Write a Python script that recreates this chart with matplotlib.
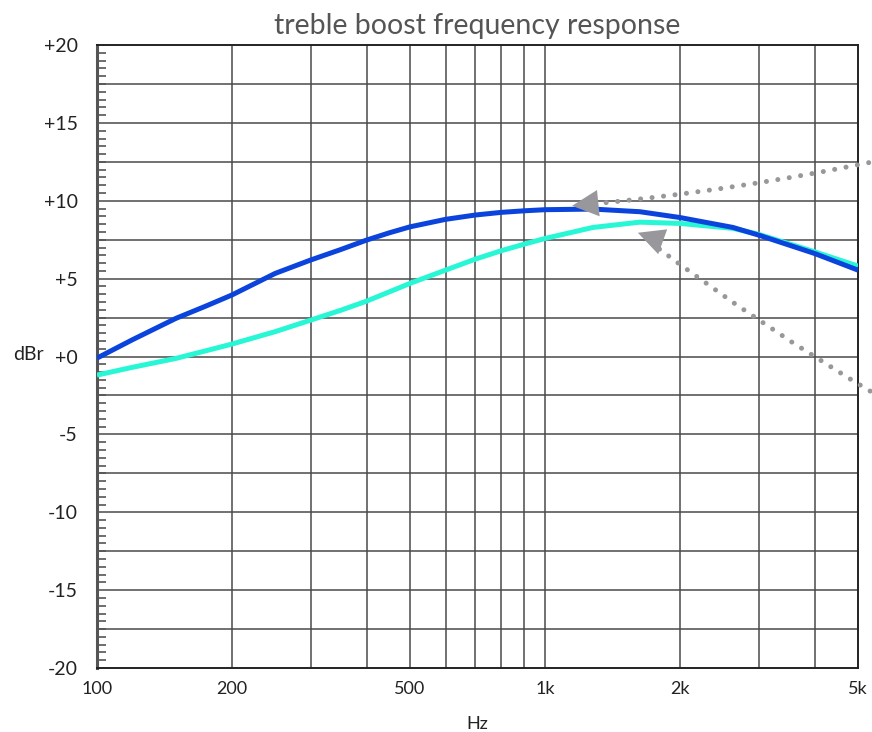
import numpy as np
import matplotlib
matplotlib.use("Agg")
import matplotlib.pyplot as plt
from matplotlib.ticker import FixedLocator, NullFormatter

plt.rcParams['font.family'] = ['Lato', 'DejaVu Sans']

# values (Hz, dBr)
freq = [100, 120, 150, 175, 200, 250, 300, 350, 400, 450, 500, 600, 700, 800, 900, 1000,
        1280, 1630, 2000, 2630, 3000, 4000, 5000]
boost_on = [-0.1, 1.08, 2.45, 3.24, 3.95, 5.34, 6.2, 6.87, 7.48, 7.95, 8.33, 8.81, 9.09,
            9.26, 9.36, 9.43, 9.47, 9.3, 8.93, 8.29, 7.8, 6.62, 5.55]
boost_off = [-1.19, -0.69, -0.12, 0.37, 0.8, 1.6, 2.34, 2.97, 3.56, 4.16, 4.7, 5.55, 6.26,
             6.8, 7.22, 7.58, 8.29, 8.63, 8.55, 8.23, 7.85, 6.73, 5.81]

x_major = [100, 200, 500, 1000, 2000, 5000]
x_labels = ['100', '200', '500', '1k', '2k', '5k']
x_minor = [300, 400, 600, 700, 800, 900, 3000, 4000]
y_major = [20, 15, 10, 5, 0, -5, -10, -15, -20]
y_labels = ['+20', '+15', '+10', '+5', '+0', '-5', '-10', '-15', '-20']

# pointer arrows (start off to the right, tip near the curves)
arrow_tails = [(5600, 12.6), (5600, -2.6)]
arrow_tips = [(1150, 9.68), (1613, 7.95)]

blue = '#0a44dc'
cyan = '#28f7d6'
grey = '#98989c'

fig = plt.figure(figsize=(8.72, 7.32), dpi=100)
ax = fig.add_axes([0.1112, 0.0874, 0.8727, 0.851])

ax.set_xscale('log')
ax.set_xlim(100, 5000)
ax.set_ylim(-20, 20)

ax.xaxis.set_major_locator(FixedLocator(x_major))
ax.set_xticklabels(x_labels)
ax.xaxis.set_minor_locator(FixedLocator(x_minor))
ax.xaxis.set_minor_formatter(NullFormatter())
ax.tick_params(axis='x', which='both', length=0, pad=9, labelsize=13, colors='#222222')

ax.yaxis.set_major_locator(FixedLocator(y_major))
ax.set_yticklabels(y_labels)
ax.yaxis.set_minor_locator(FixedLocator(np.arange(-20, 20.01, 0.5)))
ax.tick_params(axis='y', which='major', length=0, pad=14, labelsize=14, colors='#222222')
ax.tick_params(axis='y', which='minor', direction='in', length=6.5, width=1.2, color='#555555')

# grid: vertical at every decade step, horizontal every 2.5 dB
for f in x_major[1:-1] + x_minor:
    ax.axvline(f, color='#4a4a4a', lw=1.1, zorder=1)
for g in np.arange(-17.5, 20, 2.5):
    ax.axhline(g, color='#4a4a4a', lw=1.1, zorder=1)

for s in ax.spines.values():
    s.set_color('#222222')
    s.set_linewidth(1.4)
ax.spines['left'].set_linewidth(2.2)
ax.spines['left'].set_color('#555555')

ax.plot(freq, boost_off, color=cyan, lw=3.6, zorder=3, solid_capstyle='butt',
        solid_joinstyle='round')
ax.plot(freq, boost_on, color=blue, lw=3.6, zorder=4, solid_capstyle='butt',
        solid_joinstyle='round')

for (tx, ty), (hx, hy) in zip(arrow_tails, arrow_tips):
    ax.annotate('', xy=(hx, hy), xytext=(tx, ty), annotation_clip=False,
                arrowprops=dict(arrowstyle='-', color=grey, lw=3.6,
                                linestyle=(0, (0.01, 2.3)), capstyle='round',
                                shrinkA=0, shrinkB=13,
                                connectionstyle='arc3,rad=-0.03'), zorder=5)
    ax.annotate('', xy=(hx, hy), xytext=(hx * 1.15, hy + (ty - hy) * 0.06),
                annotation_clip=False,
                arrowprops=dict(arrowstyle='-|>,head_length=1.0,head_width=0.5',
                                mutation_scale=19, color=grey, lw=0,
                                shrinkA=0, shrinkB=0), zorder=5)

ax.set_title('treble boost frequency response', fontsize=20.5, fontweight='normal',
             color='#555555', pad=8)
ax.set_xlabel('Hz', fontsize=13, color='#222222', labelpad=14)
ax.set_ylabel('dBr', fontsize=14, color='#222222', rotation=0, labelpad=0)
ax.yaxis.set_label_coords(-0.09, 0.49)

fig.savefig('out.png', dpi=100)
